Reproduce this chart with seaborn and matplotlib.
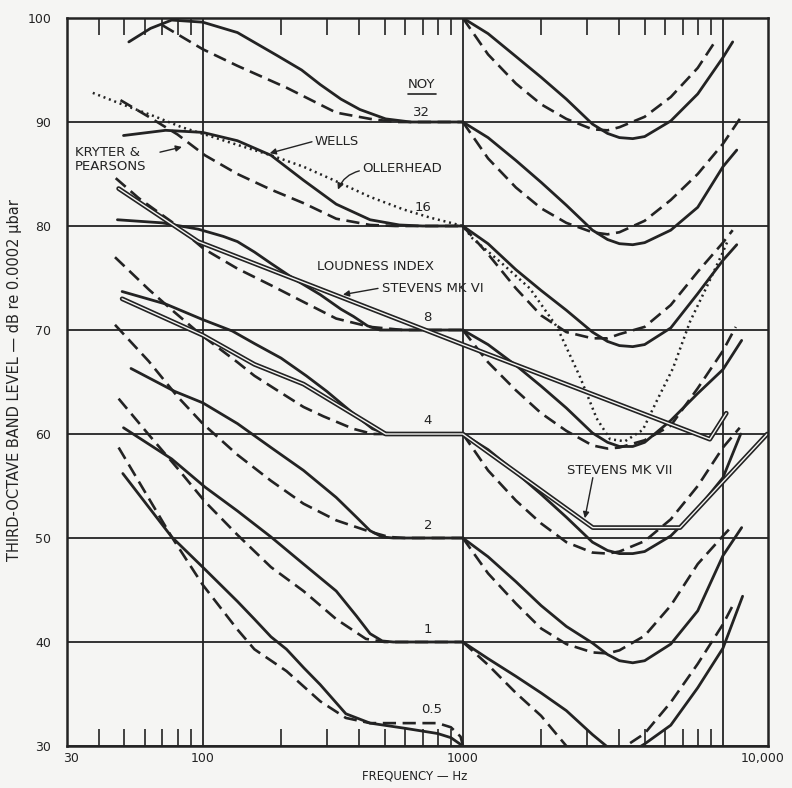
import matplotlib
matplotlib.use("Agg")
import matplotlib.pyplot as plt
import matplotlib.transforms as mtransforms
from matplotlib.lines import Line2D
from matplotlib.ticker import FixedLocator, NullFormatter
import pandas as pd
import seaborn as sns

INK = "#232323"
PAPER = "#f5f5f3"

# --- courbes : (frequence Hz, niveau dB) ---
# Wells (trait plein), branche basses frequences, par NOY
wells_32_lo = [(52, 97.7), (63, 99.0), (76, 99.8), (100, 99.6), (136, 98.6), (193, 96.4), (240, 95.0),
               (283, 93.6), (340, 92.2), (402, 91.2), (505, 90.3), (630, 90), (1000, 90)]
wells_16_lo = [(49.6, 88.7), (72, 89.2), (100, 89.0), (136, 88.2), (183, 86.8), (244, 84.4), (326, 82.1),
               (440, 80.6), (570, 80.1), (700, 80), (1000, 80)]
wells_8_lo = [(47, 80.6), (70, 80.3), (96, 79.7), (120, 79.0), (136, 78.5), (158, 77.5), (183, 76.4),
              (225, 74.9), (283, 73.4), (340, 72.0), (380, 71.3), (430, 70.4), (480, 70), (1000, 70)]
wells_4_lo = [(49, 73.7), (72, 72.5), (100, 71.0), (130, 69.9), (158, 68.7), (200, 67.3), (250, 65.6),
              (300, 64.1), (350, 62.7), (400, 61.5), (450, 60.5), (500, 60.1), (550, 60), (1000, 60)]
wells_2_lo = [(53, 66.3), (78, 64.1), (100, 63.0), (136, 61.0), (183, 58.7), (244, 56.5), (326, 53.9),
              (390, 52.0), (440, 50.7), (490, 50.1), (540, 50), (1000, 50)]
wells_1_lo = [(49.6, 60.6), (76, 57.6), (102, 54.9), (136, 52.6), (183, 50.1), (244, 47.5), (326, 44.9),
              (390, 42.5), (440, 40.8), (490, 40.1), (540, 40), (1000, 40)]
wells_05_lo = [(49.3, 56.2), (76, 50.1), (100, 47.2), (136, 43.9), (158, 42.2), (183, 40.5), (210, 39.3),
               (245, 37.5), (283, 35.9), (355, 33.1), (440, 32.2), (600, 31.7), (800, 31.2), (900, 30.8),
               (1000, 30)]

# Kryter & Pearsons (tirets), branche basses frequences
kp_32_lo = [(70, 99.3), (100, 97.0), (136, 95.4), (210, 93.3), (326, 90.9), (440, 90.3), (550, 90), (1000, 90)]
kp_16_lo = [(48.3, 92.1), (62, 90.5), (80, 88.8), (102, 86.8), (136, 85.0), (183, 83.5), (244, 82.2),
            (326, 80.7), (440, 80.1), (550, 80), (1000, 80)]
kp_8_lo = [(46.3, 84.6), (56.6, 82.7), (76, 80.4), (101, 77.8), (136, 75.9), (183, 74.3), (244, 72.7),
           (326, 71.1), (440, 70.3), (590, 70), (1000, 70)]
kp_4_lo = [(46, 77.0), (62, 73.9), (78, 71.7), (99, 69.5), (136, 66.9), (158, 65.6), (199, 64.0),
           (244, 62.6), (291, 61.7), (379, 60.5), (450, 60), (1000, 60)]
kp_2_lo = [(46, 70.5), (62, 67.0), (80, 63.6), (100, 61.0), (136, 58.0), (183, 55.5), (244, 53.3),
           (326, 51.7), (440, 50.6), (520, 50.1), (600, 50), (1000, 50)]
kp_1_lo = [(47.5, 63.4), (61.7, 60.0), (80, 56.7), (102, 53.5), (136, 50.3), (183, 47.2), (244, 44.9),
           (326, 42.2), (424, 40.3), (500, 40), (1000, 40)]
kp_05_lo = [(47.5, 58.7), (76, 50.1), (100, 45.5), (136, 41.2), (158, 39.3), (210, 37.2), (283, 34.3),
            (355, 32.7), (440, 32.2), (800, 32.2), (900, 31.8), (980, 30.9), (1000, 30.1)]

# branches hautes frequences (depart a 1000 Hz)
wells_100_hi = [(1000, 100), (1250, 98.5), (1600, 96.3), (2000, 94.3), (2500, 92.2), (3150, 89.8),
                (3600, 88.9), (4000, 88.5), (4500, 88.4), (5000, 88.6), (6300, 90.1), (8000, 92.7),
                (10000, 96.2), (10900, 97.7)]
wells_90_hi = [(1000, 90), (1250, 88.5), (1600, 86.3), (2000, 84.2), (2500, 82.0), (3150, 79.6),
               (3600, 78.7), (4000, 78.3), (4500, 78.2), (5000, 78.4), (6300, 79.6), (8000, 81.8),
               (10000, 85.7), (11300, 87.3)]
wells_80_hi = [(1000, 80), (1250, 78.3), (1600, 75.8), (2000, 73.8), (2500, 71.9), (3150, 69.8),
               (3600, 68.9), (4000, 68.5), (4500, 68.4), (5000, 68.6), (6300, 70.2), (8000, 73.5),
               (10000, 76.7), (11300, 78.2)]
wells_70_hi = [(1000, 70), (1250, 68.6), (1600, 66.6), (2000, 64.6), (2500, 62.5), (3150, 60.1),
               (3600, 59.2), (4000, 58.8), (4500, 58.8), (5000, 59.2), (6300, 61.3), (8000, 63.9),
               (10000, 66.2), (11800, 69.0)]
wells_60_hi = [(1000, 60), (1250, 58.5), (1600, 56.3), (2000, 54.2), (2500, 52.0), (3150, 49.6),
               (3600, 48.8), (4000, 48.5), (4500, 48.5), (5000, 48.7), (6300, 50.2), (8000, 52.8),
               (10000, 55.8), (11700, 60.0)]
wells_50_hi = [(1000, 50), (1250, 48.2), (1600, 45.8), (2000, 43.5), (2500, 41.5), (3150, 39.9),
               (3600, 38.8), (4000, 38.2), (4500, 38.0), (5000, 38.2), (6300, 39.8), (8000, 43.0),
               (10000, 48.3), (11800, 51.0)]
wells_40_hi = [(1000, 40), (1250, 38.4), (1600, 36.7), (2000, 35.1), (2500, 33.4), (3150, 31.1),
               (3600, 29.9), (4000, 29.3), (4500, 29.5), (5000, 30.2), (6300, 32.0), (8000, 35.6),
               (10000, 39.4), (11900, 44.4)]

kp_100_hi = [(1000, 100), (1250, 96.5), (1600, 93.7), (2000, 91.7), (2500, 90.3), (3150, 89.3),
             (3600, 89.2), (4000, 89.5), (5000, 90.5), (6300, 92.4), (8000, 95.2), (9250, 97.6)]
kp_90_hi = [(1000, 90), (1250, 86.5), (1600, 83.7), (2000, 81.7), (2500, 80.3), (3150, 79.4),
            (3600, 79.2), (4000, 79.4), (5000, 80.5), (6300, 82.5), (8000, 85.0), (10000, 87.9),
            (11900, 90.7)]
kp_80_hi = [(1000, 80), (1250, 77.3), (1600, 74.0), (2000, 71.4), (2500, 69.8), (3150, 69.2),
            (3600, 69.2), (4000, 69.6), (5000, 70.3), (6300, 72.4), (8000, 75.6), (10000, 78.4),
            (10900, 79.6)]
kp_70_hi = [(1000, 70), (1250, 66.9), (1600, 64.2), (2000, 62.0), (2500, 60.3), (3150, 58.9),
            (3600, 58.6), (4000, 58.7), (5000, 59.4), (6300, 60.8), (8000, 64.4), (10000, 68.0),
            (11200, 70.3)]
kp_60_hi = [(1000, 60), (1250, 56.5), (1600, 53.6), (2000, 51.4), (2500, 49.6), (3150, 48.6),
            (3600, 48.5), (4000, 48.7), (5000, 49.7), (6300, 51.8), (8000, 55.0), (10000, 58.7),
            (11600, 60.6)]
kp_50_hi = [(1000, 50), (1250, 46.6), (1600, 43.7), (2000, 41.3), (2500, 39.8), (3150, 39.0),
            (3600, 38.9), (4000, 39.2), (5000, 40.6), (6300, 43.5), (8000, 47.5), (10000, 50.2),
            (10900, 51.2)]
kp_40_hi = [(1000, 40), (1250, 37.8), (1600, 35.1), (2000, 32.9), (2500, 30.0), (3150, 28.7),
            (4000, 29.6), (5000, 31.2), (6300, 34.2), (8000, 37.9), (10000, 41.7), (10900, 43.5)]

# Ollerhead (pointilles)
ollerhead = [(37.8, 92.8), (49, 91.7), (66, 90.5), (83, 89.5), (102, 88.8), (136, 87.8), (183, 86.8),
             (244, 85.7), (326, 84.3), (440, 82.8), (590, 81.6), (750, 80.8), (900, 80.3), (1000, 80),
             (1090, 78.8), (1400, 76.5), (1810, 74.0), (2300, 70.3), (2820, 65.5), (3270, 61.5),
             (3680, 59.5), (4200, 59.3), (4920, 60.4), (5570, 63.2), (6420, 66.3), (7470, 70.8),
             (8680, 74.2), (10000, 77.5), (10400, 78.5)]

# Stevens (doubles traits)
stevens_mk6 = [(47.5, 83.6), (96, 78.5), (1000, 68.6), (8900, 59.5), (10300, 62.0)]
stevens_mk7 = [(49, 73.0), (100, 69.5), (158, 66.7), (244, 64.8), (379, 61.9), (505, 60), (1000, 60),
               (3160, 51), (6840, 51), (14800, 60)]

noy_labels = ["32", "16", "8", "4", "2", "1", "0.5"]
noy_label_pos = [(696, 90.9), (700, 81.8), (728, 71.2), (734, 61.3), (734, 51.2), (734, 41.2), (760, 33.5)]

sns.set_theme(style="white", rc={"axes.edgecolor": INK, "text.color": INK,
                                 "xtick.color": INK, "ytick.color": INK})
plt.rcParams["font.family"] = ["DejaVu Sans"]

fig = plt.figure(figsize=(7.92, 7.88), dpi=100, facecolor=PAPER)
ax = fig.add_axes([66.7 / 792, 1 - 746 / 788, (768 - 66.7) / 792, (746 - 18) / 788])
ax.set_facecolor(PAPER)


def courbe(pts, style):
    df = pd.DataFrame(pts, columns=["freq", "db"])
    kw = dict(data=df, x="freq", y="db", ax=ax, sort=False, estimator=None, legend=False)
    if style == "plein":
        sns.lineplot(color=INK, lw=2.0, **kw)
    elif style == "tirets":
        sns.lineplot(color=INK, lw=1.9, linestyle=(0, (5, 2.5)), **kw)
    elif style == "points":
        sns.lineplot(color=INK, lw=1.8, linestyle=(0, (0.8, 1.5)), **kw)
    else:
        sns.lineplot(color=INK, lw=3.4, **kw)
        sns.lineplot(color=PAPER, lw=1.0, **kw)


for pts in [wells_32_lo, wells_16_lo, wells_8_lo, wells_4_lo, wells_2_lo, wells_1_lo, wells_05_lo,
            wells_100_hi, wells_90_hi, wells_80_hi, wells_70_hi, wells_60_hi, wells_50_hi, wells_40_hi]:
    courbe(pts, "plein")
for pts in [kp_32_lo, kp_16_lo, kp_8_lo, kp_4_lo, kp_2_lo, kp_1_lo, kp_05_lo,
            kp_100_hi, kp_90_hi, kp_80_hi, kp_70_hi, kp_60_hi, kp_50_hi, kp_40_hi]:
    courbe(pts, "tirets")
courbe(ollerhead, "points")
courbe(stevens_mk6, "double")
courbe(stevens_mk7, "double")

# axes
ax.set_xscale("log")
ax.set_xlim(30, 14900)
ax.set_ylim(30, 100)
ax.set_xticks([30, 100, 1000, 10000])
ax.set_xticklabels(["30", "100", "1000", "10,000"])
ax.xaxis.set_minor_locator(FixedLocator([40, 50, 60, 70, 80, 90, 200, 300, 400, 500, 600, 700, 800, 900,
                                         2000, 3000, 4000, 5000, 6000, 7000, 8000, 9000]))
ax.xaxis.set_minor_formatter(NullFormatter())
ax.set_yticks(range(30, 101, 10))
ax.grid(True, which="major", color=INK, lw=1.3)
ax.set_axisbelow(True)
ax.tick_params(axis="x", which="minor", direction="in", top=True, bottom=True, length=12, width=1.2, color=INK)
ax.tick_params(axis="x", which="major", length=0, pad=4, labelsize=9)
ax.tick_params(axis="y", length=0, pad=11, labelsize=9)
ax.set_xlabel("")
ax.set_ylabel("")
for s in ax.spines.values():
    s.set_linewidth(1.8)
    s.set_color(INK)

for lab in ax.get_xticklabels():
    if lab.get_text() == "10,000":
        lab.set_transform(lab.get_transform() + mtransforms.ScaledTranslation(0.40, 0, fig.dpi_scale_trans))
    if lab.get_text() == "30":
        lab.set_transform(lab.get_transform() + mtransforms.ScaledTranslation(0.04, 0, fig.dpi_scale_trans))

fig.text(15 / 792, 1 - 380 / 788, "THIRD-OCTAVE BAND LEVEL — dB re 0.0002 μbar", rotation=90,
         ha="center", va="center", fontsize=10.5, color=INK)
fig.text(415 / 792, 1 - 776 / 788, "FREQUENCY — Hz", ha="center", va="center", fontsize=8.5, color=INK)

# etiquettes NOY
for lab, (fx, fy) in zip(noy_labels, noy_label_pos):
    ax.text(fx, fy, lab, ha="center", va="center", fontsize=9.5, color=INK)
noy = ax.text(696, 93.6, "NOY", ha="center", va="center", fontsize=9.5, color=INK)

arrow = dict(arrowstyle="-|>", color=INK, lw=1.0, mutation_scale=9, shrinkA=0, shrinkB=0)
ax.text(270, 88.1, "WELLS", ha="left", va="center", fontsize=9.5, color=INK)
ax.annotate("", xy=(181, 87.0), xytext=(263, 88.1), arrowprops=arrow)
ax.text(32.3, 87.1, "KRYTER &", ha="left", va="center", fontsize=9.5, color=INK)
ax.text(32.3, 85.7, "PEARSONS", ha="left", va="center", fontsize=9.5, color=INK)
ax.annotate("", xy=(83.2, 87.6), xytext=(68.5, 87.1), arrowprops=arrow)
ax.text(409, 85.5, "OLLERHEAD", ha="left", va="center", fontsize=9.5, color=INK)
ax.annotate("", xy=(331, 83.5), xytext=(400, 85.3),
            arrowprops=dict(arrow, connectionstyle="arc3,rad=0.25"))
ax.text(275, 76.1, "LOUDNESS INDEX", ha="left", va="center", fontsize=9.5, color=INK)
ax.text(489, 74.0, "STEVENS MK VI", ha="left", va="center", fontsize=9.5, color=INK)
ax.annotate("", xy=(346, 73.4), xytext=(472, 74.0), arrowprops=arrow)
ax.text(2511, 56.5, "STEVENS MK VII", ha="left", va="center", fontsize=9.5, color=INK)
ax.annotate("", xy=(2945, 51.9), xytext=(3160, 55.8), arrowprops=arrow)

# soulignement de NOY
fig.canvas.draw()
bb = noy.get_window_extent()
fig.add_artist(Line2D([bb.x0, bb.x1], [bb.y0 - 3, bb.y0 - 3], transform=mtransforms.IdentityTransform(),
                      color=INK, lw=1.2))

fig.savefig("out.png", dpi=100, facecolor=PAPER)
